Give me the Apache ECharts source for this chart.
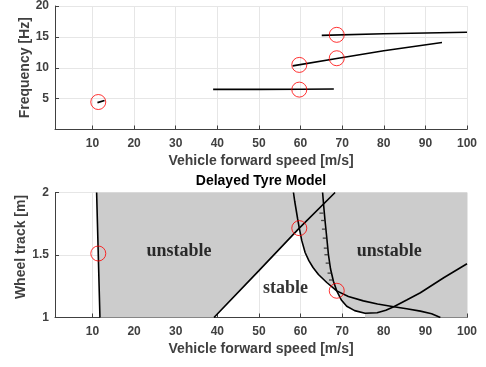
<!DOCTYPE html>
<html>
<head>
<meta charset="utf-8">
<script src="https://cdn.jsdelivr.net/npm/echarts@6/dist/echarts.min.js"></script>
<style>html,body{margin:0;padding:0;background:#fff}#c{width:486px;height:367px}</style>
</head>
<body>
<div id="c"></div>
<script>
// ---- Data ----
var xTicks = [10, 20, 30, 40, 50, 60, 70, 80, 90, 100];
var freqTicks = [5, 10, 15, 20];
var trackTicks = [1, 1.5, 2];

// Top panel: frequency [Hz] vs speed [m/s]
var freqMode1 = [[11.2, 4.35], [12.9, 4.7]];
var freqMode2 = [[39, 6.5], [50, 6.5], [60, 6.52], [68, 6.55]];
var freqMode3 = [[58.1, 10.3], [68.7, 11.5], [80, 12.75], [94, 14.1]];
var freqMode4 = [[65.1, 15.25], [80, 15.5], [100, 15.75]];
var freqCircles = [[11.4, 4.45], [59.7, 6.46], [59.7, 10.46], [68.7, 11.54], [68.7, 15.33]];

// Bottom panel: wheel track [m] vs speed [m/s]
var curveL = [[11.0, 2], [11.2, 1.75], [11.4, 1.5], [11.6, 1.25], [11.8, 1]];
var curveD = [[39.2, 1], [50, 1.375], [59.7, 1.715], [68.3, 2]];
var curveA = [[58.3, 2], [58.6, 1.93], [58.9, 1.87], [59.3, 1.79], [59.7, 1.715], [60.3, 1.615], [61.1, 1.52], [62.0, 1.455], [63.0, 1.4], [64.3, 1.344], [66.3, 1.28], [68.7, 1.213], [71.5, 1.168], [75.1, 1.133], [78.5, 1.108], [82.4, 1.086], [85.5, 1.07], [88.8, 1.051], [91.5, 1.03], [93.6, 1.0]];
var curveB = [[65.3, 2], [65.6, 1.88], [65.9, 1.77], [66.3, 1.64], [66.7, 1.504], [67.2, 1.39], [67.9, 1.29], [68.7, 1.213], [69.8, 1.14], [71.1, 1.09], [73.0, 1.055], [75.5, 1.034], [78.4, 1.038], [80.5, 1.058], [82.4, 1.086], [85.5, 1.14], [88.8, 1.198], [94.4, 1.318], [100, 1.43]];
var curveBMarks = [[65.5, 1.835], [65.9, 1.776], [66.1, 1.707], [66.3, 1.635], [66.55, 1.555], [66.7, 1.502], [67.0, 1.435], [67.45, 1.355], [67.8, 1.3]];
var trackCircles = [[11.4, 1.512], [59.7, 1.715], [68.7, 1.214]];
var regionLabels = [
  { name: 'unstable', value: [30.8, 1.528] },
  { name: 'unstable', value: [81.3, 1.528] },
  { name: 'stable', value: [56.4, 1.23] }
];

// Unstable (shaded) region outline, built from the curves above
function between(curve, x0, x1) {
  return curve.filter(function (p) { return p[0] >= x0 && p[0] <= x1; });
}
var unstableRegion = []
  .concat(curveL)
  .concat(between(curveD, 0, 59.7))
  .concat(between(curveA, 59.71, 68.69))
  .concat(between(curveB, 68.7, 75.5))
  .concat([[75.5, 1], [100, 1], [100, 2]]);

// ---- Chart ----
var axisColor = '#404040';
var gridColor = '#e6e6e6';
var tickFont = { color: axisColor, fontSize: 12, fontWeight: 'bold', fontFamily: 'Liberation Sans, Arial, sans-serif' };
var nameFont = { color: axisColor, fontSize: 14, fontWeight: 'bold', fontFamily: 'Liberation Sans, Arial, sans-serif' };

function xAxisDef(gridIndex) {
  return {
    type: 'value', gridIndex: gridIndex, min: 1, max: 100,
    name: 'Vehicle forward speed [m/s]', nameLocation: 'middle', nameGap: 25, nameMoveOverlap: false,
    nameTextStyle: nameFont,
    axisLine: { show: true, lineStyle: { color: axisColor, width: 1 } },
    axisTick: { show: true, inside: true, length: 4, customValues: xTicks, lineStyle: { color: axisColor } },
    axisLabel: Object.assign({ customValues: xTicks, margin: 8 }, tickFont),
    splitLine: { show: true, lineStyle: { color: gridColor, width: 1 } }
  };
}

function lineSeries(data, xi, yi) {
  return {
    type: 'line', xAxisIndex: xi, yAxisIndex: yi, data: data,
    showSymbol: false, symbol: 'none', smooth: false, z: 3,
    lineStyle: { color: '#000', width: 1.6 }, silent: true, animation: false
  };
}

function circleSeries(data, xi, yi) {
  return {
    type: 'scatter', xAxisIndex: xi, yAxisIndex: yi, data: data,
    symbol: 'circle', symbolSize: 15, z: 4, silent: true, animation: false,
    itemStyle: { color: 'rgba(0,0,0,0)', borderColor: '#ff0000', borderWidth: 1 }
  };
}

var chart = echarts.init(document.getElementById('c'), null, { renderer: 'canvas' });
chart.setOption({
  animation: false,
  backgroundColor: '#ffffff',
  title: {
    text: 'Delayed Tyre Model', left: 261, top: 174, textAlign: 'center', padding: 0,
    textStyle: { color: '#000', fontSize: 14, fontWeight: 'bold', fontFamily: 'Liberation Sans, Arial, sans-serif' }
  },
  grid: [
    { left: 55, right: 19, top: 4.5, height: 125 },
    { left: 55, right: 19, top: 192.5, height: 125 }
  ],
  xAxis: [xAxisDef(0), xAxisDef(1)],
  yAxis: [
    {
      type: 'value', gridIndex: 0, min: 0, max: 20, interval: 5,
      name: 'Frequency [Hz]', nameLocation: 'middle', nameGap: 23, nameMoveOverlap: false, nameTextStyle: nameFont,
      axisLine: { show: true, lineStyle: { color: axisColor, width: 1 } },
      axisTick: { show: true, inside: true, length: 4, customValues: freqTicks, lineStyle: { color: axisColor } },
      axisLabel: Object.assign({ customValues: freqTicks, margin: 6 }, tickFont),
      splitLine: { show: true, lineStyle: { color: gridColor, width: 1 } }
    },
    {
      type: 'value', gridIndex: 1, min: 1, max: 2, interval: 0.5,
      name: 'Wheel track [m]', nameLocation: 'middle', nameGap: 27, nameMoveOverlap: false, nameTextStyle: Object.assign({ padding: [0, 0, 0, 16] }, nameFont),
      axisLine: { show: true, lineStyle: { color: axisColor, width: 1 } },
      axisTick: { show: true, inside: true, length: 4, customValues: trackTicks, lineStyle: { color: axisColor } },
      axisLabel: Object.assign({ customValues: trackTicks, margin: 6 }, tickFont),
      splitLine: { show: true, lineStyle: { color: gridColor, width: 1 } }
    }
  ],
  series: [
    lineSeries(freqMode1, 0, 0),
    lineSeries(freqMode2, 0, 0),
    lineSeries(freqMode3, 0, 0),
    lineSeries(freqMode4, 0, 0),
    circleSeries(freqCircles, 0, 0),
    {
      type: 'custom', xAxisIndex: 1, yAxisIndex: 1, data: [0], z: 1, silent: true, animation: false,
      renderItem: function (params, api) {
        var pts = unstableRegion.map(function (p) { return api.coord(p); });
        return { type: 'polygon', shape: { points: pts }, style: { fill: '#cccccc', stroke: null } };
      }
    },
    lineSeries(curveL, 1, 1),
    lineSeries(curveD, 1, 1),
    lineSeries(curveA, 1, 1),
    lineSeries(curveB, 1, 1),
    {
      type: 'scatter', xAxisIndex: 1, yAxisIndex: 1, data: curveBMarks, z: 3, silent: true, animation: false,
      symbol: 'rect', symbolSize: [4, 1.3], symbolOffset: [-2, 0], itemStyle: { color: '#222' }
    },
    circleSeries(trackCircles, 1, 1),
    {
      type: 'scatter', xAxisIndex: 1, yAxisIndex: 1, data: regionLabels, symbolSize: 1, z: 5,
      silent: true, animation: false, itemStyle: { color: 'rgba(0,0,0,0)' },
      label: {
        show: true, position: 'inside', formatter: '{b}', color: '#000',
        fontSize: 18, fontWeight: 'bold', fontFamily: 'Liberation Serif, Times New Roman, serif'
      }
    }
  ]
});
</script>
</body>
</html>
